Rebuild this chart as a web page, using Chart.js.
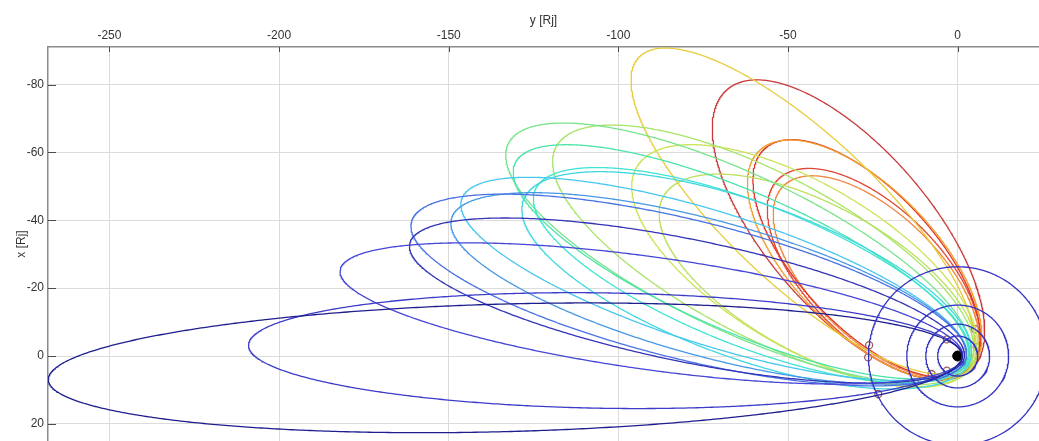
<!DOCTYPE html>
<html><head><meta charset="utf-8">
<script src="https://cdn.jsdelivr.net/npm/chart.js@4/dist/chart.umd.min.js"></script>
<style>html,body{margin:0;padding:0;background:#fff;overflow:hidden}canvas{display:block}</style>
</head><body>
<canvas id="c" width="1039" height="441"></canvas>
<script>
// ---- data (Rj) ----
// horizontal axis = y [Rj], vertical axis = x [Rj]
const xTickValues = [-250, -200, -150, -100, -50, 0];
const yTickValues = [-80, -60, -40, -20, 0, 20];

// apoapsis position of each orbit (y, x) and semi-minor axis
const apoapsisY = [-268, -209, -182, -161.5, -161, -149.2, -146.2, -128, -124.6, -130.5, -132.5, -118.4, -94.6, -86.8, -94, -58.5, -57, -51.5, -53, -68];
const apoapsisX = [7, -3.2, -25.3, -33.1, -39.5, -40.5, -46.2, -45.9, -48.8, -56.7, -62.5, -61.6, -55.7, -46.9, -88, -60.5, -61, -50, -52, -78.5];
const semiMinor = [18.8, 17, 16.6, 18, 20.5, 20, 19.5, 23, 21, 20.5, 23, 24, 24, 22, 22, 21, 20, 18.5, 19.5, 24];
const orbitColors = ['#1e1e8e','#3c3cc8','#4646d6','#3434b8','#4a72e2','#4898e6','#48c8ee','#40d8e0','#40e4d4','#4ce4a8','#78e48c','#a8e468','#cce458','#bce060','#e8cc3c','#f0a030','#e03828','#f08840','#e04838','#c83a3a'];

// moon orbit radii (Io, Europa, Ganymede, Callisto)
const moonRadii = [5.9, 9.4, 15.0, 26.3];

// flyby markers
const flybyY = [-26.1, -26.4, -23.4, -12.6, -7.7, -3.2, -3.2, 5.1, 5.6, -2.3];
const flybyX = [-3.2, 0.4, 11.2, 7.6, 5.3, 4.3, -4.9, -7.9, -2.6, 5.6];

// ---- build curves ----
function orbitPoints(ay, ax, b) {
  const ra = Math.hypot(ay, ax);
  const uy = ay / ra, ux = ax / ra;
  const rp = b * b / ra;
  const a = (ra + rp) / 2, c = (ra - rp) / 2;
  const pts = [];
  for (let i = 0; i <= 720; i++) {
    const t = i * Math.PI / 360;
    const s = c + a * Math.cos(t), l = b * Math.sin(t);
    pts.push({ x: s * uy - l * ux, y: s * ux + l * uy });
  }
  return pts;
}
function circlePoints(r) {
  const pts = [];
  for (let i = 0; i <= 360; i++) {
    const t = i * Math.PI / 180;
    pts.push({ x: r * Math.cos(t), y: r * Math.sin(t) });
  }
  return pts;
}

const datasets = [];
moonRadii.forEach(r => datasets.push({
  data: circlePoints(r), showLine: true, pointRadius: 0, borderColor: '#3434c2', borderWidth: 1.3, fill: false
}));
apoapsisY.forEach((ay, i) => datasets.push({
  data: orbitPoints(ay, apoapsisX[i], semiMinor[i]), showLine: true, pointRadius: 0,
  borderColor: orbitColors[i], borderWidth: 1.3, fill: false
}));
datasets.push({
  data: flybyY.map((v, i) => ({ x: v, y: flybyX[i] })), showLine: false,
  pointRadius: 3.5, borderColor: '#9c5a5a', backgroundColor: 'rgba(0,0,0,0)', borderWidth: 1.3
});
datasets.push({
  data: [{ x: 0, y: 0 }], showLine: false, pointRadius: 5, backgroundColor: '#000', borderColor: '#000'
});

const innerTicks = {
  id: 'innerTicks',
  afterDatasetsDraw(chart) {
    const { ctx, chartArea: ca, scales: { x, y } } = chart;
    ctx.save();
    ctx.strokeStyle = '#4a4a4a';
    ctx.lineWidth = 1;
    ctx.beginPath();
    x.ticks.forEach(t => { const p = Math.round(x.getPixelForValue(t.value)) + 0.5; ctx.moveTo(p, ca.top); ctx.lineTo(p, ca.top + 5); });
    y.ticks.forEach(t => { const p = Math.round(y.getPixelForValue(t.value)) + 0.5; ctx.moveTo(ca.left, p); ctx.lineTo(ca.left + 8, p); });
    ctx.stroke();
    ctx.restore();
  }
};

const noPad = s => { s.paddingLeft = 0; s.paddingRight = 0; s.paddingTop = 0; s.paddingBottom = 0; };
const font = { family: "'Liberation Sans', Arial, Helvetica, sans-serif", size: 12 };
new Chart(document.getElementById('c'), {
  type: 'scatter',
  data: { datasets },
  options: {
    responsive: false, animation: false, events: [],
    layout: { padding: 0, autoPadding: false },
    plugins: { legend: { display: false }, tooltip: { enabled: false } },
    scales: {
      x: {
        type: 'linear', position: 'top', min: -268.1, max: 23.96,
        afterBuildTicks: s => { s.ticks = xTickValues.map(v => ({ value: v })); },
        afterFit: s => { s.height = 47; noPad(s); },
        ticks: { font, color: '#333', padding: 4, maxRotation: 0, callback: v => String(v) },
        grid: { color: '#dcdcdc', lineWidth: 1, drawTicks: false },
        border: { color: '#8a8a8a', width: 1.5 },
        title: { display: true, text: 'y [Rj]', font, color: '#333', padding: { top: 13, bottom: 0 } }
      },
      y: {
        type: 'linear', position: 'left', reverse: true, min: -91.07, max: 25.05,
        afterBuildTicks: s => { s.ticks = yTickValues.map(v => ({ value: v })); },
        afterFit: s => { s.width = 48; noPad(s); },
        ticks: { font, color: '#333', padding: 4, callback: v => String(v) },
        grid: { color: '#dcdcdc', lineWidth: 1, drawTicks: false },
        border: { color: '#8a8a8a', width: 1.5 },
        title: { display: true, text: 'x [Rj]', font, color: '#333', padding: { top: 14, bottom: 0 } }
      }
    }
  },
  plugins: [innerTicks]
});
</script>
</body></html>
